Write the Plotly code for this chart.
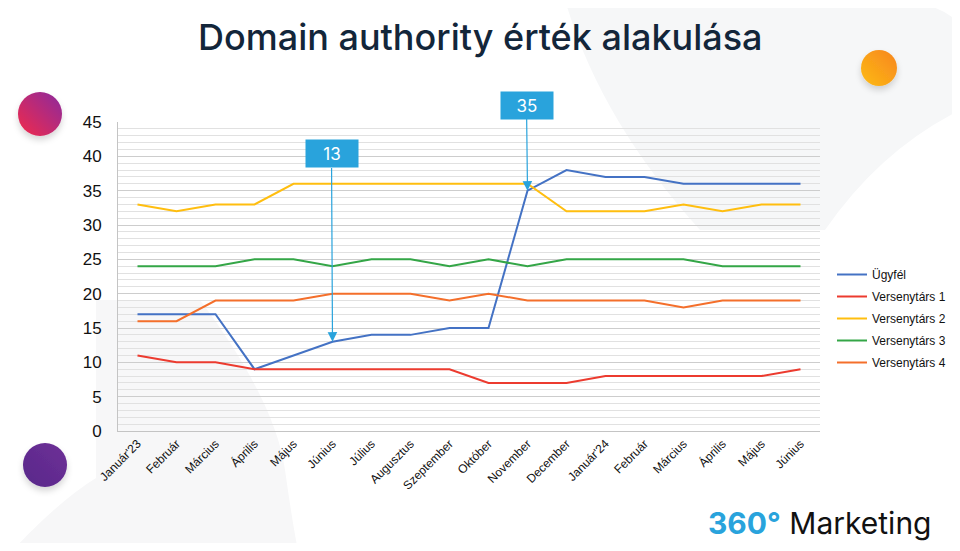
import plotly.graph_objects as go
import base64

# Month labels (duplicates across years, so x is numeric with ticktext)
months = ["Január'23", "Február", "Március", "Április", "Május", "Június",
          "Július", "Augusztus", "Szeptember", "Október", "November", "December",
          "Január'24", "Február", "Március", "Április", "Május", "Június"]

ugyfel = [17, 17, 17, 9, 11, 13, 14, 14, 15, 15, 35, 38, 37, 37, 36, 36, 36, 36]
versenytars_1 = [11, 10, 10, 9, 9, 9, 9, 9, 9, 7, 7, 7, 8, 8, 8, 8, 8, 9]
versenytars_2 = [33, 32, 33, 33, 36, 36, 36, 36, 36, 36, 36, 32, 32, 32, 33, 32, 33, 33]
versenytars_3 = [24, 24, 24, 25, 25, 24, 25, 25, 24, 25, 24, 25, 25, 25, 25, 24, 24, 24]
versenytars_4 = [16, 16, 19, 19, 19, 20, 20, 20, 19, 20, 19, 19, 19, 19, 18, 19, 19, 19]

series_names = ["Ügyfél", "Versenytárs 1", "Versenytárs 2", "Versenytárs 3", "Versenytárs 4"]
series_values = [ugyfel, versenytars_1, versenytars_2, versenytars_3, versenytars_4]
series_colors = ["#4472C4", "#EC3B2F", "#FFBE0F", "#34A647", "#F46F2B"]

# callouts: (month index, value, box centre y in page px)
callouts = [(5, 13, 154), (10, 35, 105)]

# the page body has an 8px margin, so the figure is drawn 8px smaller
OFF = 8
L, T = 118, 122          # plot area left / top in page px
PLOT_R, PLOT_B = 820, 431
W, H = 960 - OFF * 2, 551 - OFF * 2
PW, PH = PLOT_R - L, PLOT_B - T


def px(x):
    return (x - L) / PW


def py(y):
    return (PLOT_B - y) / PH


def circle_img(c1, c2, r):
    svg = (
        f'<svg xmlns="http://www.w3.org/2000/svg" width="{2*r+16}" height="{2*r+16}">'
        f'<defs><linearGradient id="g" x1="0" y1="1" x2="1" y2="0">'
        f'<stop offset="0" stop-color="{c1}"/><stop offset="1" stop-color="{c2}"/></linearGradient>'
        f'<filter id="s" x="-50%" y="-50%" width="200%" height="200%">'
        f'<feDropShadow dx="0" dy="4" stdDeviation="3" flood-color="#000" flood-opacity="0.16"/></filter></defs>'
        f'<circle cx="{r+8}" cy="{r+6}" r="{r}" fill="url(#g)" filter="url(#s)"/></svg>'
    )
    return "data:image/svg+xml;base64," + base64.b64encode(svg.encode()).decode()


def svg_path(cmds):
    # cmds: list of (letter, [x1, y1, x2, y2, ...]) in page px
    out = []
    for letter, pts in cmds:
        conv = []
        for k in range(0, len(pts), 2):
            conv.append("{:.4f},{:.4f}".format(px(pts[k]), py(pts[k + 1])))
        out.append(letter + " " + " ".join(conv))
    return " ".join(out) + " Z"


fig = go.Figure()

for name, vals, col in zip(series_names, series_values, series_colors):
    fig.add_trace(go.Scatter(
        x=list(range(len(months))), y=vals, mode="lines", name=name,
        legendgroup=name, line=dict(color=col, width=2)
    ))

annotations = []
for i, v, by in callouts:
    yy = PLOT_B - v * PH / 45
    annotations.append(dict(
        x=i, y=v, xref="x", yref="y", text=str(v),
        showarrow=True, arrowhead=2, arrowsize=1.6, arrowwidth=1.2,
        arrowcolor="#29A3DC", ax=-1, ay=-(yy - by),
        bgcolor="#29A3DC", width=52, height=27, borderpad=0,
        font=dict(family="Inter, Lato, sans-serif", size=17, color="white")
    ))

annotations.append(dict(
    xref="paper", yref="paper", x=px(480), y=py(37), xanchor="center", yanchor="middle",
    text="Domain authority érték alakulása", showarrow=False,
    font=dict(family="Inter, Lato, sans-serif", size=36, weight=500, color="#13263A")
))
annotations.append(dict(
    xref="paper", yref="paper", x=px(706), y=py(523), xanchor="left", yanchor="middle",
    text="<b><span style='color:#29A3DC'>360°</span></b> Marketing", showarrow=False,
    font=dict(family="Inter, Lato, sans-serif", size=30, color="#111111")
))

# faint background swooshes
shapes = [
    dict(type="path", xref="paper", yref="paper", layer="below", line=dict(width=0),
         fillcolor="#F6F7F8",
         path=svg_path([("M", [565, 0]), ("L", [900, 0]),
                        ("Q", [945, 5, 960, 25]), ("L", [960, 110]),
                        ("Q", [880, 150, 825, 230]), ("L", [700, 230]),
                        ("Q", [600, 120, 565, 0])])),
    dict(type="path", xref="paper", yref="paper", layer="below", line=dict(width=0),
         fillcolor="#F7F7F8",
         path=svg_path([("M", [12, 551]), ("Q", [60, 500, 96, 478]),
                        ("L", [96, 300]), ("L", [200, 300]),
                        ("Q", [275, 400, 285, 470]), ("Q", [292, 520, 298, 551])])),
]

images = [
    dict(source=circle_img("#F2294A", "#8B2A9E", 22), xref="paper", yref="paper",
         x=px(40 - 30), y=py(114 - 28), sizex=60 / PW, sizey=60 / PH,
         xanchor="left", yanchor="top", layer="above"),
    dict(source=circle_img("#FDBB14", "#F7851F", 18), xref="paper", yref="paper",
         x=px(879 - 26), y=py(68 - 24), sizex=52 / PW, sizey=52 / PH,
         xanchor="left", yanchor="top", layer="above"),
    dict(source=circle_img("#58288A", "#6E3097", 22), xref="paper", yref="paper",
         x=px(45 - 30), y=py(465 - 28), sizex=60 / PW, sizey=60 / PH,
         xanchor="left", yanchor="top", layer="above"),
]

fig.update_layout(
    width=W, height=H,
    margin=dict(l=L - OFF, r=W - (PLOT_R - OFF), t=T - OFF, b=H - (PLOT_B - OFF),
                autoexpand=False),
    paper_bgcolor="white", plot_bgcolor="white",
    font=dict(family="Liberation Sans, Arial, sans-serif", color="#111111"),
    showlegend=True,
    legend=dict(x=px(832), y=py(260), xanchor="left", yanchor="top",
                font=dict(size=12, color="#111111"), bgcolor="rgba(0,0,0,0)",
                itemwidth=30, tracegroupgap=3),
    xaxis=dict(range=[-0.5, len(months) - 0.5], tickmode="array",
               tickvals=list(range(len(months))), ticktext=months,
               tickangle=-45, tickfont=dict(size=12), showgrid=False,
               showline=True, linecolor="#C4C4C4", linewidth=1, ticks="", zeroline=False),
    yaxis=dict(range=[0, 45], dtick=5, tickfont=dict(size=17), showgrid=True,
               gridcolor="#CDCDCD", gridwidth=1, showline=True, linecolor="#C4C4C4",
               ticks="", ticklabelstandoff=12, zeroline=False,
               minor=dict(dtick=1, showgrid=True, gridcolor="#E1E1E1", gridwidth=1)),
    annotations=annotations,
    shapes=shapes,
    images=images,
)

fig.write_html("out.html")
